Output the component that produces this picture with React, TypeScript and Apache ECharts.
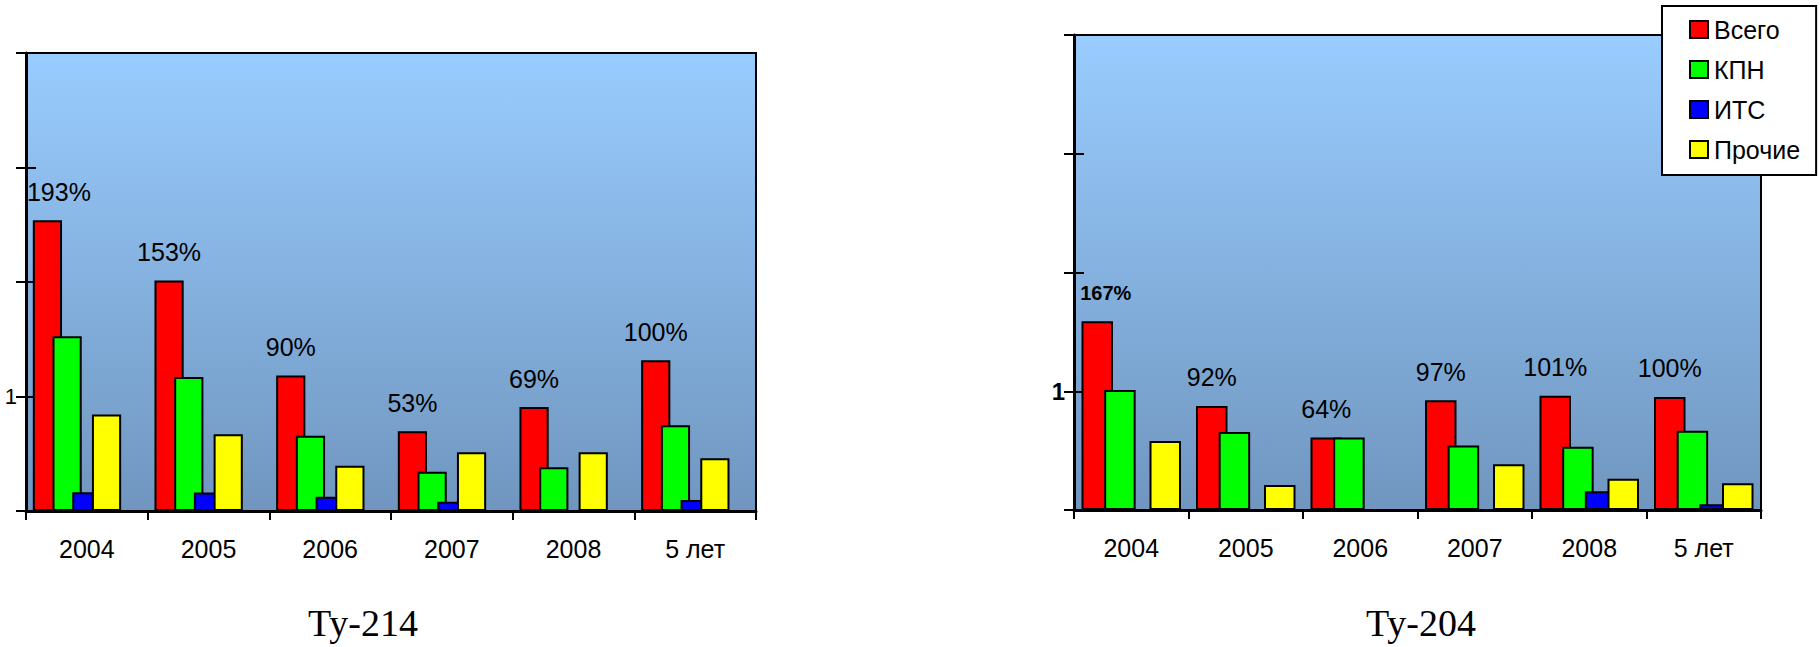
import React, { useEffect, useRef } from 'react';
import * as echarts from 'echarts';

const categories = ['2004', '2005', '2006', '2007', '2008', '5 лет'];
const seriesNames = ['Всего', 'КПН', 'ИТС', 'Прочие'];
const seriesColors = ['#FF0000', '#00FF00', '#0000FF', '#FFFF00'];
const titles = ['Ту-214', 'Ту-204'];
const yTickLabels = ['', '1', '', '', ''];

// Ту-214, % of base
const tu214Total = [193, 153, 90, 53, 69, 100];
const tu214Kpn = [116, 89, 50, 26, 29, 57];
const tu214Its = [12.4, 12.2, 9.5, 6.2, 0, 7.3];
const tu214Other = [64, 51, 30, 39, 39, 35];

// Ту-204, % of base
const tu204Total = [167, 92, 64, 97, 101, 100];
const tu204Kpn = [106, 69, 64, 57, 56, 70];
const tu204Its = [0, 0, 0, 0, 16.5, 5];
const tu204Other = [61, 22, 0, 40.5, 27.6, 23.7];

const tu214Step = 76;
const tu204Step = 105;

const SANS = 'Arial, "Liberation Sans", Helvetica, sans-serif';
const SERIF = '"Times New Roman", "Liberation Serif", Times, serif';

const bgGradient = {
  type: 'linear', x: 0, y: 0, x2: 0, y2: 1,
  colorStops: [
    { offset: 0, color: '#99CCFF' },
    { offset: 1, color: '#7096BF' },
  ],
};

function makeAxes(gridIndex: number, step: number, boldLabel: boolean) {
  const xAxis = {
    type: 'category', gridIndex, data: categories,
    axisLine: { show: true, lineStyle: { color: '#000', width: 3 } },
    axisTick: { show: true, length: 9, lineStyle: { color: '#000', width: 2 } },
    axisLabel: { interval: 0, fontSize: 25, color: '#000', margin: 25, fontFamily: SANS },
    splitLine: { show: false },
  };
  const yMain = {
    type: 'value', gridIndex, min: 0, max: step * 4, interval: step, position: 'left',
    axisLine: { show: true, lineStyle: { color: '#000', width: 3 } },
    axisTick: { show: true, length: 10, lineStyle: { color: '#000', width: 2 } },
    axisLabel: {
      show: true, margin: 9, fontSize: boldLabel ? 24 : 22, fontWeight: boldLabel ? 'bold' : 'normal',
      color: '#000', fontFamily: SANS,
      formatter: (_v: number, idx: number) => yTickLabels[idx] ?? '',
    },
    splitLine: { show: false },
  };
  const yInner = {
    type: 'value', gridIndex, min: 0, max: step * 4, interval: step, position: 'left',
    axisLine: { show: false },
    axisTick: { show: true, inside: true, length: 10, lineStyle: { color: '#000', width: 2 } },
    axisLabel: { show: false },
    splitLine: { show: false },
  };
  return { xAxis, yAxes: [yMain, yInner] };
}

function makeSeries(
  gridIndex: number, values: number[][], barWidth: string, barGap: string,
  firstLabel: any,
) {
  return values.map((vals, i) => ({
    type: 'bar', name: seriesNames[i], xAxisIndex: gridIndex, yAxisIndex: gridIndex * 2,
    barWidth, barGap,
    itemStyle: { color: seriesColors[i], borderColor: '#000', borderWidth: 2 },
    label: i === 0 ? {
      show: true, position: 'top', distance: 16, formatter: '{c}%',
      fontSize: 25, color: '#000', fontFamily: SANS,
    } : { show: false },
    data: i === 0 ? vals.map((v, j) => (j === 0 ? { value: v, label: firstLabel } : v)) : vals,
  }));
}

export default function App() {
  const ref = useRef<HTMLDivElement>(null);
  useEffect(() => {
    if (!ref.current) return;
    const chart = echarts.init(ref.current, undefined, { renderer: 'svg' });
    const a = makeAxes(0, tu214Step, false);
    const b = makeAxes(1, tu204Step, true);
    const leftSeries = makeSeries(0, [tu214Total, tu214Kpn, tu214Its, tu214Other], '24%', '-32.5%',
      { offset: [11.5, 0] });
    const spacer = {
      type: 'bar', name: 'spacer', xAxisIndex: 0, yAxisIndex: 0, barWidth: '24%', barGap: '-32.5%',
      itemStyle: { color: 'transparent' }, data: [] as number[], silent: true,
    };
    const rightSeries = makeSeries(1, [tu204Total, tu204Kpn, tu204Its, tu204Other], '27.5%', '-28%',
      { offset: [8.5, 0], fontWeight: 'bold', fontSize: 20, distance: 18 });

    chart.setOption({
      animation: false,
      backgroundColor: '#fff',
      textStyle: { fontFamily: SANS },
      grid: [
        { left: 26, top: 53, width: 730, height: 458, show: true, backgroundColor: bgGradient, borderColor: '#000', borderWidth: 2 },
        { left: 1074, top: 35, width: 687, height: 475, show: true, backgroundColor: bgGradient, borderColor: '#000', borderWidth: 2 },
      ],
      xAxis: [a.xAxis, b.xAxis],
      yAxis: [...a.yAxes, ...b.yAxes],
      legend: {
        data: seriesNames, orient: 'vertical', left: 1662, top: 6,
        itemWidth: 18, itemHeight: 17, itemGap: 15,
        padding: [11, 16, 13, 27],
        backgroundColor: '#fff', borderColor: '#000', borderWidth: 2, borderRadius: 0,
        icon: 'rect',
        itemStyle: { borderColor: '#000', borderWidth: 2 },
        textStyle: { fontSize: 25, color: '#000', fontFamily: SANS, padding: [0, 0, 0, 1] },
        selectedMode: false,
      },
      graphic: [
        { type: 'text', x: 363, y: 623, style: { text: titles[0], font: `38px ${SERIF}`, fill: '#000', textAlign: 'center', textVerticalAlign: 'middle' } },
        { type: 'text', x: 1421, y: 623, style: { text: titles[1], font: `38px ${SERIF}`, fill: '#000', textAlign: 'center', textVerticalAlign: 'middle' } },
      ],
      series: [...leftSeries, spacer, ...rightSeries],
    });
    return () => chart.dispose();
  }, []);
  return (
    <div
      ref={ref}
      style={{ position: 'fixed', left: 0, top: 0, width: 1820, height: 647, background: '#fff' }}
    />
  );
}
